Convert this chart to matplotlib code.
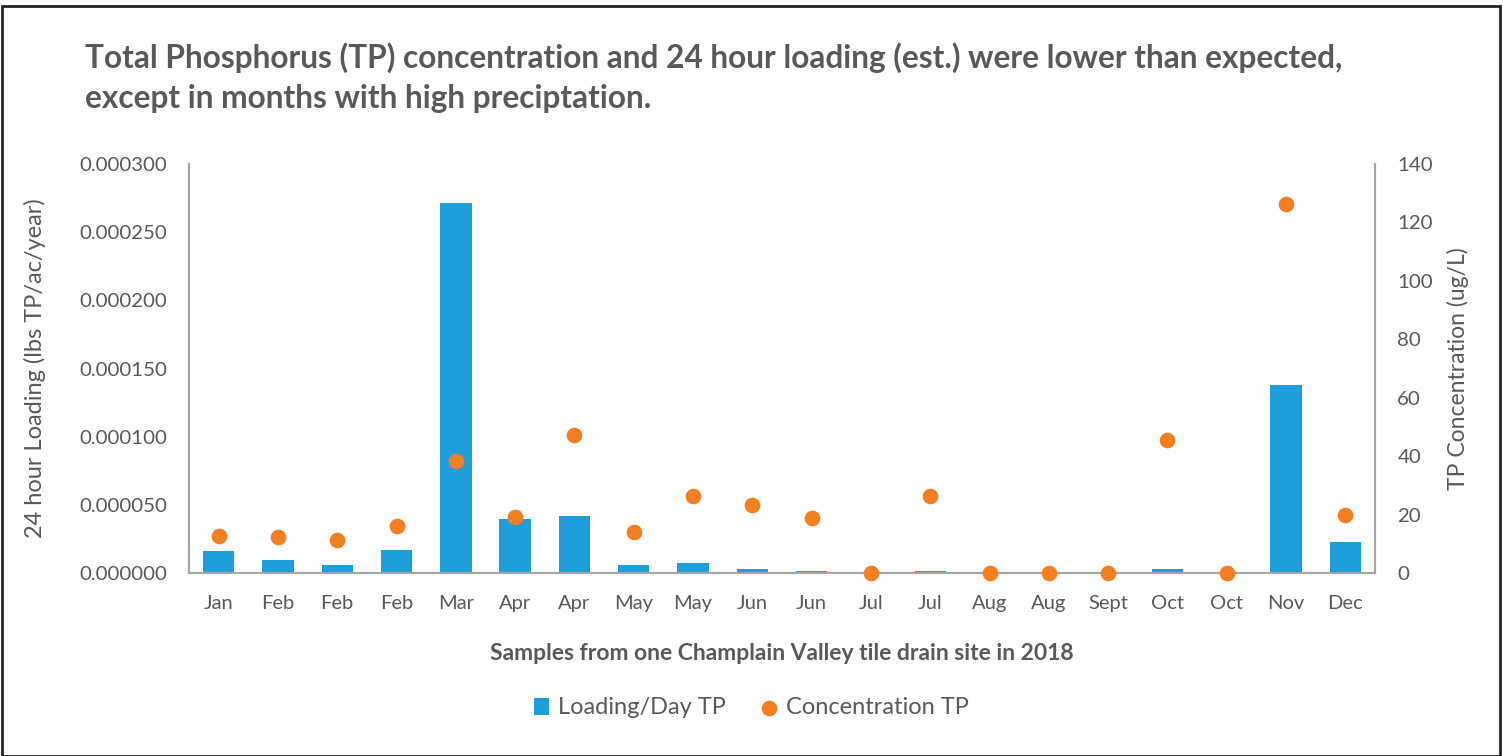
import numpy as np
import matplotlib
matplotlib.use('agg')
import matplotlib.pyplot as plt
from matplotlib.ticker import FormatStrFormatter

months = ["Jan", "Feb", "Feb", "Feb", "Mar", "Apr", "Apr", "May", "May", "Jun",
          "Jun", "Jul", "Jul", "Aug", "Aug", "Sept", "Oct", "Oct", "Nov", "Dec"]
loading = [0.0000161, 0.0000095, 0.0000059, 0.0000169, 0.0002714, 0.0000396, 0.0000418,
           0.0000059, 0.0000073, 0.0000030, 0.0000015, 0.0, 0.0000015, 0.0, 0.0, 0.0,
           0.0000030, 0.0, 0.000138, 0.0000227]
conc = [12.7, 12.3, 11.3, 16.1, 38.3, 19.2, 47.2, 14.0, 26.4, 23.3,
        18.8, 0.0, 26.4, 0.0, 0.0, 0.0, 45.5, 0.0, 126.3, 19.9]

blue = "#1E9FDB"
orange = "#F47F20"
grey = "#595959"
plt.rcParams['font.family'] = ['Lato', 'DejaVu Sans']

fig = plt.figure(figsize=(15.03, 7.56), dpi=100)
ax = fig.add_axes([189/1503, 1 - 573/756, (1375-189)/1503, (573-164)/756])
x = np.arange(len(months))
b = ax.bar(x, loading, width=0.53, color=blue, label="Loading/Day TP")
ax.set_xlim(-0.5, len(months) - 0.5)
ax.set_ylim(0, 0.0003)
ax.set_yticks(np.arange(0, 0.00031, 0.00005))
ax.yaxis.set_major_formatter(FormatStrFormatter('%.6f'))
ax.set_xticks(x)
ax.set_xticklabels(months)

ax2 = ax.twinx()
s = ax2.scatter(x, conc, s=105, color=orange, zorder=3, clip_on=False, label="Concentration TP")
ax2.set_ylim(0, 140)
ax2.set_yticks(range(0, 141, 20))

for a in (ax, ax2):
    a.spines['top'].set_visible(False)
    for sp in a.spines.values():
        sp.set_color("#A6A6A6")
        sp.set_linewidth(1.5)
    a.tick_params(length=0, labelsize=14.7, colors=grey, pad=16)
ax.tick_params(axis='x', labelsize=14.5, pad=16)

ax.set_ylabel("24 hour Loading (lbs TP/ac/year)", fontsize=17, color=grey, labelpad=24)
ax2.set_ylabel("TP Concentration (ug/L)", fontsize=16.5, color=grey, labelpad=10)
ax.set_xlabel("Samples from one Champlain Valley tile drain site in 2018",
              fontsize=16.5, color=grey, fontweight='bold', labelpad=22)

fig.text(85/1503, 1 - 68/756,
         "Total Phosphorus (TP) concentration and 24 hour loading (est.) were lower than expected,",
         fontsize=22.8, fontweight='bold', color=grey, va='baseline', ha='left')
fig.text(85/1503, 1 - 108/756,
         "except in months with high preciptation.",
         fontsize=22.8, fontweight='bold', color=grey, va='baseline', ha='left')

fig.legend([b, s], ["Loading/Day TP", "Concentration TP"], loc='center',
           bbox_to_anchor=(0.5, 1 - 708/756), ncol=2, frameon=False, fontsize=17,
           labelcolor=grey, handlelength=0.65, columnspacing=1.5, handletextpad=0.4)

fig.patches.append(plt.Rectangle((2/1503, 0), 1 - 5/1503, 1 - 6/756, transform=fig.transFigure,
                                 fill=False, edgecolor="#222222", linewidth=2))

fig.savefig("out.png", dpi=100)
